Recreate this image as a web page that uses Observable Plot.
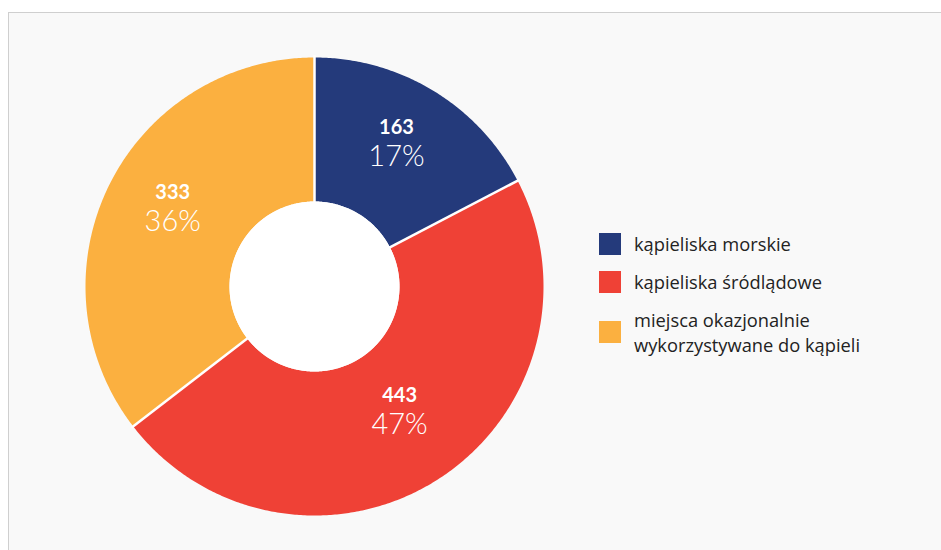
<!DOCTYPE html>
<html><head><meta charset="utf-8">
<script src="https://cdn.jsdelivr.net/npm/d3@7"></script>
<script src="https://cdn.jsdelivr.net/npm/@observablehq/plot@0.6"></script>
<style>
html,body{margin:0;padding:0;background:#fff;width:941px;height:550px;overflow:hidden;font-family:Lato,"Noto Sans",sans-serif}
#box{position:absolute;left:8px;top:12px;width:1000px;height:600px;border:1px solid #cfcfcf;background:#f9f9f9;box-sizing:border-box}
#chart{position:absolute;left:0;top:0}
#legend{position:absolute;left:599px;top:231px;font-family:"Open Sans",sans-serif;font-size:18.3px;line-height:25px;color:#222}
.row{display:flex;align-items:center;margin-bottom:13px}
.sw{width:22px;height:22px;flex-shrink:0;margin-right:13px}
.lb{width:260px}
</style></head><body>
<div id="box"></div><div id="chart"></div><div id="legend"></div>
<script>
const categories = ["kąpieliska morskie", "kąpieliska śródlądowe", "miejsca okazjonalnie wykorzystywane do kąpieli"];
const counts = [163, 443, 333];
const percentLabels = ["17%", "47%", "36%"];
const colors = ["#243a7b", "#ef4136", "#fbb040"];

const total = d3.sum(counts);
const rOuter = 1, rInner = 85 / 229, rLabel = 0.69;
let acc = 0;
const slices = categories.map((c, i) => {
  const a0 = acc / total * 2 * Math.PI; acc += counts[i];
  const a1 = acc / total * 2 * Math.PI;
  const m = (a0 + a1) / 2;
  return {cat: c, count: counts[i], pct: percentLabels[i], a0, a1,
    lx: rLabel * Math.sin(m), ly: rLabel * Math.cos(m)};
});
const step = Math.PI / 360;
function arcPts(s, r, rev, key) {
  const n = Math.max(2, Math.ceil((s.a1 - s.a0) / step));
  const pts = [];
  for (let k = 0; k <= n; k++) {
    const kk = rev ? n - k : k;
    const a = s.a0 + (s.a1 - s.a0) * kk / n;
    pts.push({cat: key, x: r * Math.sin(a), y: r * Math.cos(a)});
  }
  return pts;
}
const ringPts = slices.flatMap(s => [...arcPts(s, rOuter, false, s.cat), ...arcPts(s, rInner, true, s.cat)]);
const holePts = arcPts({a0: 0, a1: 2 * Math.PI}, rInner, false, "hole");

const chart = Plot.plot({
  width: 941, height: 550, margin: 0,
  x: {domain: [-1, 1], range: [85, 543], axis: null},
  y: {domain: [-1, 1], range: [515, 57], axis: null},
  color: {domain: categories, range: colors},
  style: {background: "transparent", overflow: "visible", fontFamily: "Lato, 'Noto Sans', sans-serif"},
  marks: [
    Plot.line(ringPts, {x: "x", y: "y", z: "cat", fill: "cat", stroke: "none"}),
    Plot.line(holePts, {x: "x", y: "y", fill: "#ffffff", stroke: "none"}),
    Plot.link(slices, {
      x1: s => rInner * 0.98 * Math.sin(s.a0), y1: s => rInner * 0.98 * Math.cos(s.a0),
      x2: s => rOuter * 1.01 * Math.sin(s.a0), y2: s => rOuter * 1.01 * Math.cos(s.a0),
      stroke: "#ffffff", strokeWidth: 2.5
    }),
    Plot.text(slices, {x: "lx", y: "ly", text: s => String(s.count), dy: -24, fill: "#ffffff", fontSize: 20, fontWeight: "bold", textAnchor: "middle", lineAnchor: "middle"}),
    Plot.text(slices, {x: "lx", y: "ly", text: "pct", dy: 5, fill: "#ffffff", fontSize: 29, fontWeight: 300, textAnchor: "middle", lineAnchor: "middle"})
  ]
});
document.getElementById("chart").appendChild(chart);

const legend = d3.select("#legend");
categories.forEach((c, i) => {
  const row = legend.append("div").attr("class", "row");
  row.append("div").attr("class", "sw").style("background", colors[i]);
  row.append("div").attr("class", "lb").text(c);
});
</script>
</body></html>
